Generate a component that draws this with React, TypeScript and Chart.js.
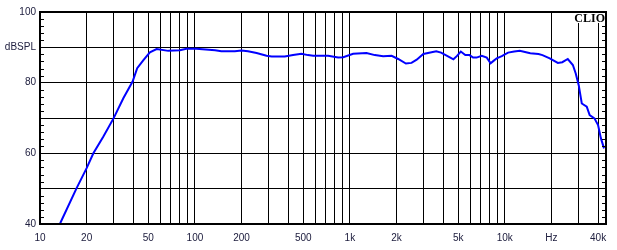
import React, { useEffect, useRef } from "react";
import { Chart, registerables } from "chart.js";

Chart.register(...registerables);

// Frequency (Hz) and SPL (dB)
const freqs = [
  13.5, 17.2, 20, 22.1, 25.6, 30, 34.5, 39.6, 42.4, 46.5, 51.2, 56.6, 67.3, 80, 88, 102,
  135, 148, 181, 200, 220, 250, 290, 313, 380, 430, 487, 537, 580, 724, 840, 906,
  1050, 1280, 1450, 1640, 1860, 2050, 2300, 2500, 2700, 2980, 3610, 3880, 4390, 4660,
  4900, 5200, 5560, 5920, 6240, 6570, 7100, 7650, 8100, 8420, 8870, 9560, 10500, 11500,
  12500, 14600, 16500, 17500, 19500, 22000, 23500, 25500, 27500, 28700, 30000, 31400,
  33800, 35300, 37900, 40000, 41700, 43700,
];
const spl = [
  40.2, 50.1, 55.8, 60.0, 64.7, 70.1, 75.6, 80.3, 84.1, 86.4, 88.6, 89.5, 89.0, 89.2, 89.6, 89.6,
  89.2, 88.9, 88.9, 89.1, 88.9, 88.4, 87.6, 87.4, 87.4, 87.8, 88.2, 87.8, 87.6, 87.6, 87.1, 87.2,
  88.2, 88.4, 87.8, 87.5, 87.6, 86.7, 85.4, 85.6, 86.5, 88.1, 88.9, 88.5, 87.2, 86.6,
  87.5, 88.8, 87.8, 87.8, 87.1, 87.1, 87.6, 87.1, 85.5, 86.1, 86.9, 87.5, 88.5, 88.8,
  89.0, 88.3, 88.1, 87.8, 86.9, 85.6, 85.8, 86.7, 85.0, 82.6, 79.3, 74.1,
  73.2, 70.8, 69.9, 68.0, 64.3, 61.4,
];

const xGrid = [
  10, 20, 30, 40, 50, 60, 70, 80, 90,
  100, 200, 300, 400, 500, 600, 700, 800, 900,
  1000, 2000, 3000, 4000, 5000, 6000, 7000, 8000, 9000,
  10000, 20000, 30000, 40000,
];
const xLabels: Record<number, string> = {
  10: "10", 20: "20", 50: "50", 100: "100", 200: "200", 500: "500",
  1000: "1k", 2000: "2k", 5000: "5k", 10000: "10k", 20000: "Hz", 40000: "40k",
};
const yLabels: Record<number, string> = {
  100: "100", 90: "dBSPL", 80: "80", 60: "60", 40: "40",
};
const yMinorTicks = [42, 44, 46, 48, 52, 54, 56, 58, 62, 64, 66, 68, 72, 74, 76, 78, 82, 84, 86, 88, 92, 94, 96, 98];
const brand = "CLIO";

const framePlugin = {
  id: "clioFrame",
  afterDraw(chart: any) {
    const { ctx, chartArea } = chart;
    const { left, right, top, bottom } = chartArea;
    const y = chart.scales.y;
    ctx.save();
    ctx.strokeStyle = "#000";
    ctx.lineWidth = 1;
    ctx.beginPath();
    for (const v of yMinorTicks) {
      const py = Math.round(y.getPixelForValue(v)) + 0.5;
      ctx.moveTo(left, py);
      ctx.lineTo(left + 4, py);
      ctx.moveTo(right - 4, py);
      ctx.lineTo(right, py);
    }
    ctx.stroke();
    ctx.lineWidth = 2;
    ctx.strokeRect(left, top, right - left, bottom - top);
    // brand box
    ctx.font = "bold 12px 'Liberation Serif', 'Times New Roman', serif";
    const w = ctx.measureText(brand).width;
    ctx.fillStyle = "#fff";
    ctx.fillRect(right - w - 4, top + 1, w + 3, 10);
    ctx.fillStyle = "#000";
    ctx.textAlign = "right";
    ctx.textBaseline = "alphabetic";
    ctx.fillText(brand, right - 1, top + 10);
    ctx.restore();
  },
};

export default function App() {
  const ref = useRef<HTMLCanvasElement>(null);
  useEffect(() => {
    if (!ref.current) return;
    const tickFont = { family: "'Liberation Sans', Arial, sans-serif", size: 10 };
    const chart = new Chart(ref.current, {
      type: "line",
      data: {
        datasets: [
          {
            data: freqs.map((f, i) => ({ x: f, y: spl[i] })),
            borderColor: "#0000ff",
            borderWidth: 2,
            pointRadius: 0,
            tension: 0,
            fill: false,
          },
        ],
      },
      options: {
        animation: false,
        responsive: false,
        devicePixelRatio: 1,
        layout: { padding: { left: 0, right: 11, top: 12, bottom: 0 } },
        plugins: { legend: { display: false }, tooltip: { enabled: false } },
        scales: {
          x: {
            type: "logarithmic",
            min: 10,
            max: 45000,
            afterBuildTicks: (scale: any) => {
              scale.ticks = xGrid.map((v) => ({ value: v }));
            },
            afterFit: (scale: any) => {
              scale.height = 26;
            },
            ticks: {
              autoSkip: false,
              maxRotation: 0,
              minRotation: 0,
              padding: 8,
              color: "#202040",
              font: tickFont,
              callback: (v: any) => xLabels[Number(v)] ?? "",
            },
            grid: { color: "#000", lineWidth: 1, drawTicks: false },
            border: { display: true, color: "#000", width: 2 },
          },
          y: {
            type: "linear",
            min: 40,
            max: 100,
            afterFit: (scale: any) => {
              scale.width = 40;
            },
            ticks: {
              stepSize: 10,
              padding: 4,
              color: "#202040",
              font: tickFont,
              callback: (v: any) => yLabels[Number(v)] ?? "",
            },
            grid: { color: "#000", lineWidth: 1, drawTicks: false },
            border: { display: true, color: "#000", width: 2 },
          },
        },
      },
      plugins: [framePlugin],
    });
    return () => chart.destroy();
  }, []);
  return (
    <div style={{ position: "fixed", left: 0, top: 0, width: 617, height: 250, background: "#fff" }}>
      <canvas ref={ref} width={617} height={250} />
    </div>
  );
}
